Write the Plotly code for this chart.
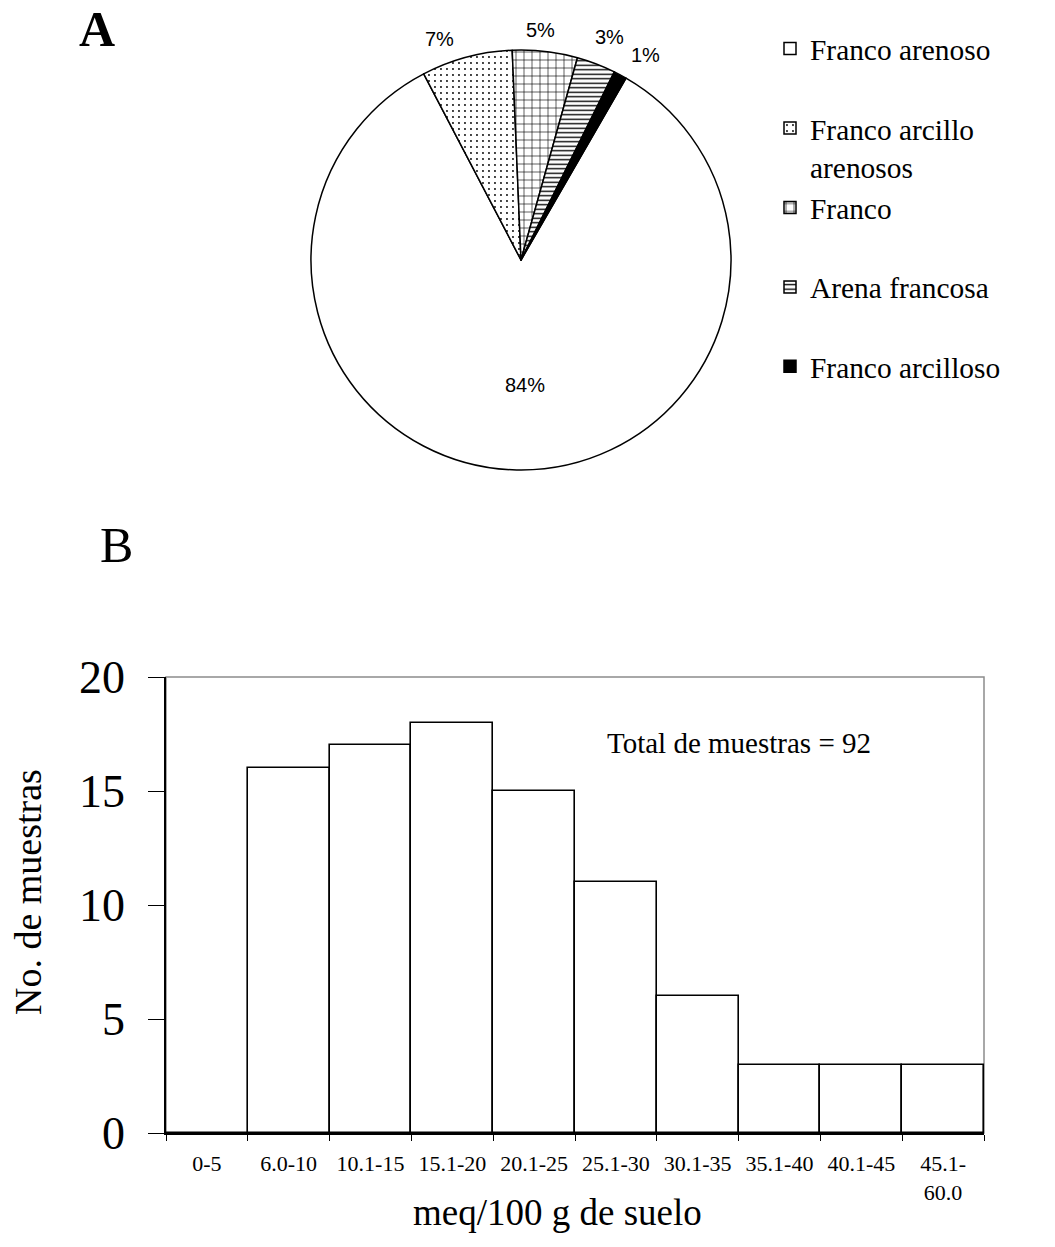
import plotly.graph_objects as go

# Soil texture classes (panel A)
texture_labels = ["Franco arenoso", "Franco arcillo<br>arenosos", "Franco",
                  "Arena francosa", "Franco arcilloso"]
texture_pct = [84, 7, 5, 3, 1]
texture_fill = ["white", "white", "white", "white", "black"]
texture_pattern = ["", ".", "+", "-", ""]

# CEC histogram (panel B)
cec_classes = ["0-5", "6.0-10", "10.1-15", "15.1-20", "20.1-25", "25.1-30",
               "30.1-35", "35.1-40", "40.1-45", "45.1-<br>60.0"]
cec_counts = [0, 16, 17, 18, 15, 11, 6, 3, 3, 3]
y_ticks = [0, 5, 10, 15, 20]

W, H = 1055, 1247
ML, MR, MT, MB = 166, 71, 0, 114          # plot area = histogram frame
PW, PH = W - ML - MR, H - MT - MB
serif = "Liberation Serif"
sans = "Liberation Sans"


def fx(x):
    """pixel column -> paper fraction"""
    return (x - ML) / PW


def fy(y):
    """pixel row (from top) -> paper fraction"""
    return (H - MB - y) / PH


def label(text, x, y, size, family=serif, angle=0):
    return dict(text=text, x=fx(x), y=fy(y), xref="paper", yref="paper",
                xanchor="center", yanchor="middle", showarrow=False,
                textangle=angle, font=dict(family=family, size=size, color="black"))


# legend entries take two text lines each
legend_names = [n if "<br>" in n else n + "<br>\u00a0" for n in texture_labels]

fig = go.Figure()

fig.add_trace(go.Pie(
    labels=legend_names,
    values=texture_pct,
    sort=False,
    direction="clockwise",
    rotation=30,
    marker=dict(
        colors=texture_fill,
        line=dict(color="black", width=1.5),
        pattern=dict(shape=texture_pattern, fgcolor="black", bgcolor="white",
                     size=[6, 6, 8, 4.5, 6], solidity=[0.1, 0.08, 0.15, 0.3, 0.1]),
    ),
    textinfo="none",
    textfont=dict(family=serif),
    domain=dict(x=[fx(311), fx(731)], y=[fy(470), fy(50)]),
    showlegend=True,
    hoverinfo="skip",
))

fig.add_trace(go.Bar(
    x=cec_classes,
    y=cec_counts,
    marker=dict(color="white", line=dict(color="black", width=1.6)),
    width=1,
    showlegend=False,
    xaxis="x",
    yaxis="y",
))

# percentage labels around the pie
pct_pos = [(525, 385), (439, 39), (540, 30), (609, 37), (645, 55)]
annotations = [label("%d%%" % v, px, py, 20, family=sans)
               for v, (px, py) in zip(texture_pct, pct_pos)]
annotations += [
    label("<b>A</b>", 97, 29, 50),
    label("B", 116, 545, 50),
    label("Total de muestras = %d" % sum(cec_counts), 739, 743, 29),
    label("meq/100 g de suelo", 557, 1212, 37),
    label("No. de muestras", 28, 892, 38, angle=-90),
]

fig.update_layout(
    width=W,
    height=H,
    margin=dict(l=ML, r=MR, t=MT, b=MB, autoexpand=False),
    paper_bgcolor="white",
    plot_bgcolor="white",
    bargap=0,
    legend=dict(
        x=fx(770), y=fy(23), xanchor="left", yanchor="top",
        font=dict(family=serif, size=29.4, color="black"),
        bgcolor="rgba(0,0,0,0)",
        valign="top",
        itemwidth=30,
    ),
    xaxis=dict(
        domain=[0, 1],
        anchor="y",
        type="category",
        tickson="boundaries",
        ticks="outside",
        ticklen=6,
        tickcolor="black",
        showline=True,
        linecolor="black",
        linewidth=1.5,
        showgrid=False,
        zeroline=False,
        automargin=False,
        ticklabelstandoff=10,
        tickfont=dict(family=serif, size=22, color="black"),
    ),
    yaxis=dict(
        domain=[0, fy(677)],
        anchor="x",
        range=[0, 20],
        tickvals=y_ticks,
        ticks="outside",
        ticklen=16,
        tickcolor="black",
        showline=True,
        linecolor="black",
        linewidth=1.5,
        showgrid=False,
        zeroline=False,
        automargin=False,
        ticklabelstandoff=14,
        tickfont=dict(family=serif, size=46, color="black"),
    ),
    shapes=[
        dict(type="rect", xref="x domain", yref="y domain",
             x0=0, x1=1, y0=0, y1=1,
             line=dict(color="#8c8c8c", width=1.5), layer="below"),
    ],
    annotations=annotations,
)

fig.write_html("out.html")
